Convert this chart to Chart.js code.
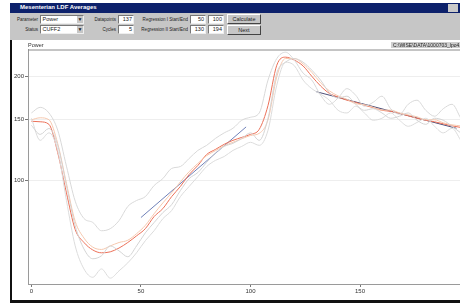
<!DOCTYPE html>
<html>
<head>
<meta charset="utf-8">
<script src="https://cdn.jsdelivr.net/npm/chart.js@4.4.0/dist/chart.umd.min.js"></script>
<style>
body { margin: 0; width: 460px; height: 306px; overflow: hidden; background: #fff; font-family: "Liberation Sans", Arial, sans-serif; position: relative; }
.abs { position: absolute; }
#titlebar { left: 10px; top: 3px; width: 450px; height: 10px; background: #0d216b; }
#titlebar span { position: absolute; left: 10px; top: 1px; color: #fff; font-size: 6px; font-weight: bold; white-space: nowrap; }
#titlebar i { position: absolute; right: 2px; top: 1px; width: 10px; height: 8px; background: #c9c9c9; }
#toolbar { left: 10px; top: 13px; width: 450px; height: 27px; background: #c6c6c6; }
.lbl { position: absolute; font-size: 5.5px; color: #222; white-space: nowrap; text-align: right; width: 60px; transform: scaleX(0.82); transform-origin: right center; }
.box { position: absolute; background: #fff; border: 1px solid #777; border-right-color: #eee; border-bottom-color: #eee; font-size: 5.5px; color: #222; height: 7px; line-height: 7px; box-sizing: content-box; }
.box.num { text-align: right; padding-right: 1px; }
.arrow { position: absolute; right: 0; top: 0; width: 6px; height: 7px; background: #c6c6c6; font-size: 5px; text-align: center; line-height: 7px; }
.btn { position: absolute; background: #c6c6c6; border: 1px solid #fff; border-right-color: #444; border-bottom-color: #444; font-size: 5.5px; text-align: center; color: #222; }
#panel { left: 10px; top: 40px; width: 450px; height: 260px; background: #fff; border-left: 2px solid #111; border-bottom: 3px solid #111; }
#chart { position: absolute; left: 12px; top: 42px; }
#ptitle { left: 28px; top: 42px; font-size: 5.5px; color: #333; }
#path { left: 391px; top: 42px; width: 70px; height: 6px; background: #cfcfcf; font-size: 5px; line-height: 6px; color: #222; white-space: nowrap; padding-left: 2px; }
</style>
</head>
<body>
<div id="titlebar" class="abs"><span>Mesenterian LDF Averages</span><i></i></div>
<div id="toolbar" class="abs">
  <div class="lbl" style="left:-32px;top:3px">Parameter</div>
  <div class="box" style="left:30px;top:2px;width:42px">&nbsp;Power<div class="arrow">&#9660;</div></div>
  <div class="lbl" style="left:-32px;top:13px">Status</div>
  <div class="box" style="left:30px;top:12px;width:42px">&nbsp;CUFF2<div class="arrow">&#9660;</div></div>
  <div class="lbl" style="left:46px;top:3px">Datapoints</div>
  <div class="box num" style="left:108px;top:2px;width:13px">137</div>
  <div class="lbl" style="left:46px;top:13px">Cycles</div>
  <div class="box num" style="left:108px;top:12px;width:13px">5</div>
  <div class="lbl" style="left:118px;top:3px">Regression I Start/End</div>
  <div class="box num" style="left:180px;top:2px;width:13px">50</div>
  <div class="box num" style="left:198px;top:2px;width:13px">100</div>
  <div class="lbl" style="left:118px;top:13px">Regression II Start/End</div>
  <div class="box num" style="left:180px;top:12px;width:13px">130</div>
  <div class="box num" style="left:198px;top:12px;width:13px">194</div>
  <div class="btn" style="left:217px;top:1px;width:32px;height:8px;line-height:8px">Calculate</div>
  <div class="btn" style="left:217px;top:12px;width:32px;height:8px;line-height:8px">Next</div>
</div>
<div id="panel" class="abs"></div>
<canvas id="chart" width="490" height="258"></canvas>
<div id="ptitle" class="abs">Power</div>
<div id="path" class="abs">C:\WISE\DATA\1000703_lpo4.1</div>
<script>
var cycleX = [0, 4, 8, 12, 16, 20, 24, 28, 32, 36, 40, 44, 48, 52, 56, 60, 64, 68, 72, 76,
    80, 84, 88, 92, 96, 100, 104, 108, 112, 116, 120, 124, 128, 132, 136, 140, 144, 148, 152, 156,
    160, 164, 168, 172, 176, 180, 184, 188, 192, 196];
var meanPower = [148.5, 148, 145.5, 120.5, 92, 72, 66, 62.8, 61.6, 62, 63.6, 66, 69, 72.4, 78.5, 82.8, 89.7, 96, 104, 110.5,
    118.9, 123, 127.3, 130.7, 133.3, 136, 140.7, 165, 216, 228, 223.6, 215, 200.6, 188, 179, 174.6, 171, 168.5, 165.3, 162.7,
    159.8, 158.7, 156.6, 154, 151.5, 149.5, 148, 146, 144, 142.5];
var smoothPower = [150, 152, 150, 128, 98, 76, 68, 64, 63, 64.5, 66, 67, 70, 74, 80, 86, 92, 99, 106, 112,
    118, 122, 126, 129, 132, 135, 137, 150, 200, 226, 226, 218, 206, 192, 182, 176, 172, 167, 166, 163,
    160, 160, 157, 155, 153, 150, 150, 147, 145, 144];
var cycleA = [157, 163, 157, 140, 110, 87, 77.5, 75.5, 71.4, 72.4, 76.4, 84, 87.4, 89.7, 96.6, 101.2, 108.3, 109.7, 115.8, 122.2,
    126.4, 132.4, 137.4, 141.7, 149.5, 152.5, 157, 195.6, 225.9, 235.7, 223.6, 205, 195.6, 176.8, 166.4, 173.5, 184.7, 176.8, 164.2, 168.6,
    175.6, 161.5, 155.6, 166.4, 171, 159.8, 153.6, 161.5, 166.4, 151.5];
var cycleB = [144.5, 136, 141.5, 126.4, 96.6, 73.8, 63.2, 59.2, 60.4, 64.5, 62.4, 60, 64.5, 70.4, 75.4, 80.6, 85, 93.4, 101.2, 105.4,
    112.8, 120.1, 125.5, 128.1, 132.4, 137.4, 130.7, 151.5, 205, 220.5, 225.9, 220.5, 209, 195.6, 179.8, 173.5, 175.6, 166.4, 159.8, 161.5,
    157, 151.5, 153.6, 157, 149.5, 145.5, 151.5, 149.5, 143.6, 137.4];
var cycleC = [151.5, 130.7, 137.4, 122.2, 87.4, 64.5, 55.3, 52.3, 55.3, 52, 54.6, 57.6, 61.6, 66.8, 71.4, 77.4, 81.7, 89.7, 96, 102.6,
    109.7, 114.3, 117.3, 122.2, 125.5, 129, 126.4, 139.8, 189, 220.5, 215.5, 195.6, 184.7, 178, 171, 159.8, 157, 164.2, 157, 149.5,
    151.5, 157, 149.5, 143.6, 147.3, 151.5, 143.6, 137.4, 141.7, 130.7];
// regression fits: [start, end] in x and fitted power
var reg1X = [50, 98];
var reg1Y = [78, 143];
var reg2X = [130, 194];
var reg2Y = [181, 141.7];
var yTicks = [100, 150, 200];
var xTicks = [0, 50, 100, 150, 200];

function pts(xs, ys) {
    return xs.map(function (x, i) { return { x: x, y: ys[i] }; });
}
function serie(ys, color) {
    return { data: pts(cycleX, ys), borderColor: color, borderWidth: 1, pointRadius: 0, cubicInterpolationMode: 'monotone', fill: false };
}

var topLine = {
    id: 'topLine',
    afterDraw: function (chart) {
        var a = chart.chartArea, ctx = chart.ctx;
        ctx.save();
        ctx.strokeStyle = '#8a8a8a';
        ctx.lineWidth = 1;
        ctx.beginPath();
        ctx.moveTo(a.left, a.top + 0.5);
        ctx.lineTo(a.right, a.top + 0.5);
        ctx.stroke();
        ctx.restore();
    }
};

new Chart(document.getElementById('chart').getContext('2d'), {
    type: 'line',
    data: {
        datasets: [
            serie(cycleA, '#d9d9d9'),
            serie(cycleB, '#d4d4d4'),
            serie(cycleC, '#dcdcdc'),
            serie(smoothPower, '#f6c8ae'),
            serie(meanPower, '#ec7058'),
            { data: pts(reg1X, reg1Y), borderColor: '#6f80b8', borderWidth: 1, pointRadius: 0 },
            { data: pts(reg2X, reg2Y), borderColor: '#4d4f78', borderWidth: 1, pointRadius: 0 }
        ]
    },
    options: {
        responsive: false,
        animation: false,
        layout: { padding: { top: 7.5, right: 0, left: 0, bottom: 0 } },
        plugins: { legend: { display: false }, tooltip: { enabled: false } },
        scales: {
            x: {
                type: 'linear',
                min: -1.55,
                max: 214.8,
                afterFit: function (s) { s.height = 16; },
                afterBuildTicks: function (s) { s.ticks = xTicks.map(function (v) { return { value: v }; }); },
                grid: { drawOnChartArea: false, drawTicks: true, tickLength: 3, tickColor: '#777' },
                border: { color: '#9a9a9a' },
                ticks: { font: { size: 6, family: 'Liberation Sans' }, color: '#333', padding: 1, maxRotation: 0 }
            },
            y: {
                type: 'logarithmic',
                min: 50,
                max: 240,
                afterFit: function (s) { s.width = 16; },
                afterBuildTicks: function (s) { s.ticks = yTicks.map(function (v) { return { value: v }; }); },
                grid: { color: '#eeeeee', tickColor: '#777', tickLength: 3 },
                border: { color: '#9a9a9a' },
                ticks: { font: { size: 6, family: 'Liberation Sans' }, color: '#333', padding: 1, callback: function (v) { return String(v); } }
            }
        }
    },
    plugins: [topLine]
});
</script>
</body>
</html>
